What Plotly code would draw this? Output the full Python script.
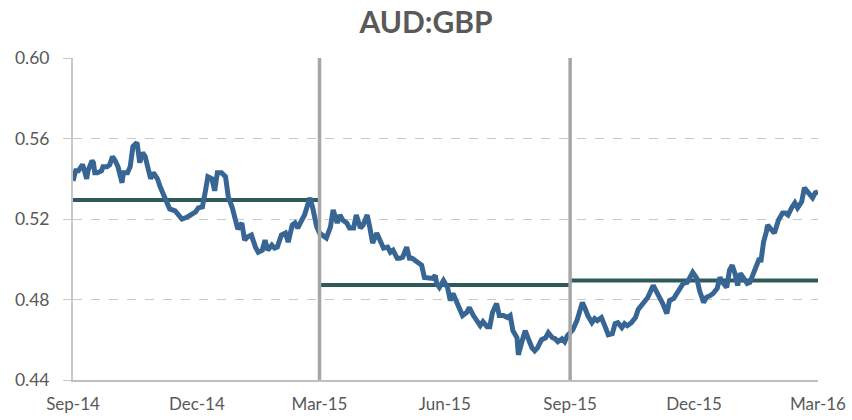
import plotly.graph_objects as go

title_text = "AUD:GBP"

dates = [
    "2014-09-01","2014-09-03","2014-09-05","2014-09-08","2014-09-09","2014-09-11","2014-09-12","2014-09-15",
    "2014-09-16","2014-09-17","2014-09-19","2014-09-22","2014-09-23","2014-09-26","2014-09-28","2014-09-30",
    "2014-10-02","2014-10-04","2014-10-07","2014-10-08","2014-10-11","2014-10-13","2014-10-15","2014-10-17",
    "2014-10-18","2014-10-20","2014-10-22","2014-10-24","2014-10-25","2014-10-28","2014-10-30",
    "2014-11-02","2014-11-04","2014-11-06","2014-11-09","2014-11-11","2014-11-15","2014-11-17","2014-11-20",
    "2014-11-24","2014-11-27","2014-11-30",
    "2014-12-02","2014-12-05","2014-12-07","2014-12-09","2014-12-12","2014-12-14","2014-12-16","2014-12-19",
    "2014-12-22","2014-12-24","2014-12-27","2014-12-29","2014-12-31",
    "2015-01-03","2015-01-05","2015-01-07","2015-01-10","2015-01-13","2015-01-15","2015-01-18","2015-01-20",
    "2015-01-22","2015-01-25","2015-01-27","2015-01-29",
    "2015-02-01","2015-02-04","2015-02-06","2015-02-09","2015-02-11","2015-02-13","2015-02-16","2015-02-18",
    "2015-02-21","2015-02-22","2015-02-24","2015-02-27",
    "2015-03-01","2015-03-04","2015-03-06","2015-03-09","2015-03-11","2015-03-14","2015-03-16","2015-03-18",
    "2015-03-21","2015-03-23","2015-03-26","2015-03-28","2015-03-31",
    "2015-04-02","2015-04-05","2015-04-07","2015-04-09","2015-04-12","2015-04-14","2015-04-17","2015-04-20",
    "2015-04-22","2015-04-24","2015-04-27","2015-04-29",
    "2015-05-01","2015-05-04","2015-05-06","2015-05-08","2015-05-10","2015-05-12","2015-05-15","2015-05-17",
    "2015-05-20","2015-05-23","2015-05-25","2015-05-26","2015-05-28","2015-05-31",
    "2015-06-03","2015-06-05","2015-06-07","2015-06-10","2015-06-12","2015-06-14","2015-06-17","2015-06-19",
    "2015-06-22","2015-06-25","2015-06-27","2015-06-29",
    "2015-07-02","2015-07-04","2015-07-06","2015-07-09","2015-07-11","2015-07-14","2015-07-17","2015-07-19",
    "2015-07-21","2015-07-24","2015-07-25","2015-07-28","2015-07-30",
    "2015-08-01","2015-08-04","2015-08-06","2015-08-08","2015-08-11","2015-08-14","2015-08-16","2015-08-19",
    "2015-08-21","2015-08-23","2015-08-26","2015-08-28","2015-08-30",
    "2015-09-03","2015-09-06","2015-09-08","2015-09-10","2015-09-12","2015-09-14","2015-09-17","2015-09-19",
    "2015-09-21","2015-09-24","2015-09-27","2015-09-29",
    "2015-10-02","2015-10-04","2015-10-06","2015-10-09","2015-10-11","2015-10-13","2015-10-16","2015-10-19",
    "2015-10-21","2015-10-24","2015-10-26","2015-10-28",
    "2015-11-01","2015-11-04","2015-11-06","2015-11-08","2015-11-11","2015-11-13","2015-11-16","2015-11-18",
    "2015-11-21","2015-11-23","2015-11-26","2015-11-28","2015-11-30",
    "2015-12-03","2015-12-05","2015-12-08","2015-12-10","2015-12-13","2015-12-15","2015-12-18","2015-12-20",
    "2015-12-22","2015-12-25","2015-12-27","2015-12-29","2015-12-31",
    "2016-01-02","2016-01-04","2016-01-06","2016-01-09","2016-01-11","2016-01-13","2016-01-16","2016-01-18",
    "2016-01-19","2016-01-21","2016-01-23","2016-01-24","2016-01-27","2016-01-29",
    "2016-02-01","2016-02-04","2016-02-06","2016-02-08","2016-02-11","2016-02-13","2016-02-15","2016-02-18",
    "2016-02-20","2016-02-23","2016-02-26","2016-02-28",
    "2016-03-01",
]

aud_gbp = [
    0.539,0.544,0.544,0.547,0.545,0.540,0.544,0.549,
    0.548,0.543,0.543,0.544,0.546,0.546,0.547,0.551,
    0.549,0.546,0.538,0.543,0.543,0.546,0.556,0.558,
    0.558,0.548,0.553,0.551,0.548,0.540,0.543,
    0.540,0.536,0.533,0.529,0.525,0.524,0.522,0.520,
    0.521,0.522,0.5235,
    0.5255,0.526,0.533,0.541,0.540,0.534,0.543,0.543,
    0.541,0.531,0.5255,0.521,0.515,
    0.518,0.5095,0.511,0.512,0.506,0.5035,0.5045,0.5095,
    0.5045,0.507,0.5055,0.506,
    0.512,0.513,0.5085,0.517,0.518,0.5155,0.5195,0.522,
    0.5285,0.5305,0.5255,0.516,
    0.513,0.511,0.5105,0.516,0.5245,0.518,0.522,0.5195,
    0.518,0.5155,0.5155,0.522,0.5155,
    0.517,0.522,0.5155,0.508,0.513,0.5105,0.5055,0.506,
    0.5035,0.5045,0.5005,0.5005,
    0.501,0.506,0.5005,0.5005,0.4995,0.4985,0.497,0.491,
    0.491,0.4905,0.492,0.488,0.486,0.4895,
    0.486,0.4795,0.483,0.4785,0.476,0.472,0.4735,0.476,
    0.472,0.4685,0.467,0.469,
    0.4665,0.4665,0.4735,0.478,0.472,0.472,0.471,0.472,
    0.4645,0.461,0.4525,0.460,0.4645,
    0.461,0.456,0.4545,0.456,0.460,0.461,0.4635,0.461,
    0.4605,0.459,0.4605,0.459,0.462,
    0.465,0.4695,0.475,0.4785,0.4755,0.472,0.4685,0.4705,
    0.4695,0.471,0.466,0.4625,
    0.463,0.468,0.4685,0.466,0.468,0.467,0.4685,0.471,
    0.475,0.478,0.4795,0.481,
    0.487,0.4835,0.481,0.478,0.473,0.4795,0.4805,0.483,
    0.4855,0.488,0.4885,0.4915,0.4935,
    0.4905,0.4845,0.4785,0.481,0.482,0.483,0.4855,0.491,
    0.4885,0.486,0.4945,0.497,0.493,
    0.487,0.493,0.491,0.488,0.4885,0.492,0.496,0.5005,
    0.4985,0.5085,0.5135,0.517,0.5145,0.513,
    0.5195,0.523,0.523,0.522,0.526,0.528,0.5255,0.5285,
    0.5355,0.533,0.5305,0.533,
    0.5335,
]

# Six-month period averages
period_starts = ["2014-09-01", "2015-03-01", "2015-09-01"]
period_ends = ["2015-03-01", "2015-09-01", "2016-03-01"]
period_avgs = [0.5294, 0.4872, 0.4895]

# Period dividers
divider_dates = ["2015-03-01", "2015-09-01"]

tick_dates = ["2014-09-01", "2014-12-01", "2015-03-01", "2015-06-01", "2015-09-01", "2015-12-01", "2016-03-01"]
tick_labels = ["Sep-14", "Dec-14", "Mar-15", "Jun-15", "Sep-15", "Dec-15", "Mar-16"]
y_ticks = [0.44, 0.48, 0.52, 0.56, 0.60]

LINE_BLUE = "#386694"
AVG_COLOR = "#2f5a5b"
GRAY = "#a6a6a6"
TEXT = "#595959"
FONT = "Lato, 'Open Sans', sans-serif"

fig = go.Figure()

for s, e, a in zip(period_starts, period_ends, period_avgs):
    fig.add_trace(go.Scatter(x=[s, e], y=[a, a], mode="lines",
                             line=dict(color=AVG_COLOR, width=4), hoverinfo="skip",
                             showlegend=False))

fig.add_trace(go.Scatter(x=dates, y=aud_gbp, mode="lines",
                         line=dict(color=LINE_BLUE, width=5), showlegend=False))

for d in divider_dates:
    fig.add_shape(type="line", xref="x", yref="y", x0=d, x1=d, y0=0.44, y1=0.60,
                  line=dict(color=GRAY, width=3.5), layer="above")

fig.update_layout(
    width=852, height=420,
    margin=dict(l=73, r=34, t=58, b=40, autoexpand=False),
    paper_bgcolor="white", plot_bgcolor="white",
    title=dict(text="<b>" + title_text + "</b>", x=0.5, xref="container", xanchor="center",
               y=0.947, yref="container", yanchor="middle",
               font=dict(family=FONT, size=30, color=TEXT)),
    font=dict(family=FONT, size=17, color=TEXT),
    showlegend=False,
)

fig.update_xaxes(
    type="date", range=["2014-09-01", "2016-03-01"],
    tickvals=tick_dates, ticktext=tick_labels,
    showgrid=False, zeroline=False, automargin=False,
    showline=True, linecolor="#bfbfbf", linewidth=2,
    ticks="outside", ticklen=8, tickcolor="rgba(0,0,0,0)",
    tickfont=dict(family=FONT, size=17, color=TEXT),
)

fig.update_yaxes(
    range=[0.44, 0.60], tickvals=y_ticks, tickformat=".2f",
    showgrid=True, gridcolor="#c8c8c8", griddash="dash", gridwidth=1,
    zeroline=False, automargin=False,
    showline=True, linecolor="#c8c8c8", linewidth=2,
    ticks="outside", ticklen=8, tickcolor="#c8c8c8", tickwidth=1,
    ticklabelstandoff=10,
    tickfont=dict(family=FONT, size=17.5, color=TEXT),
)

fig.write_html("out.html", config={"displayModeBar": False},
               post_script=["document.body.style.margin='0px';"])
